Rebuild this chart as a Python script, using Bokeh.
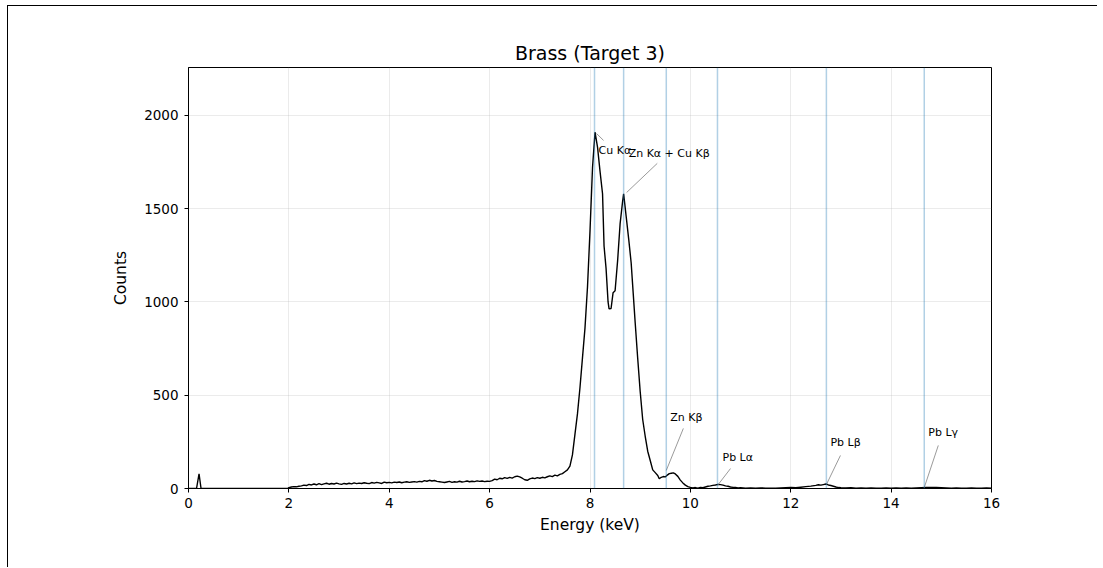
from bokeh.plotting import figure
from bokeh.models import Span, FixedTicker, Range1d, ColumnDataSource
from bokeh.core.properties import value
from bokeh.embed import file_html
from bokeh.resources import INLINE

# ---- spectrum data ----
energy = [0.00, 0.10, 0.16, 0.21, 0.25, 0.50, 1.00, 1.50, 1.98,
          2.00, 2.05, 2.10, 2.15, 2.20, 2.25, 2.30, 2.35, 2.40, 2.45, 2.50, 2.55, 2.60, 2.65, 2.70, 2.75, 2.80, 2.85, 2.90, 2.95,
          3.00, 3.05, 3.10, 3.15, 3.20, 3.25, 3.30, 3.35, 3.40, 3.45, 3.50, 3.55, 3.60, 3.65, 3.70, 3.75, 3.80, 3.85, 3.90, 3.95,
          4.00, 4.05, 4.10, 4.15, 4.20, 4.25, 4.30, 4.35, 4.40, 4.45, 4.50, 4.55, 4.60, 4.65, 4.70, 4.75, 4.80, 4.85, 4.90, 4.95,
          5.00, 5.05, 5.10, 5.15, 5.20, 5.25, 5.30, 5.35, 5.40, 5.45, 5.50, 5.55, 5.60, 5.65, 5.70, 5.75, 5.80, 5.85, 5.90, 5.95,
          6.00, 6.05, 6.10, 6.15, 6.20, 6.25, 6.30, 6.35, 6.40, 6.45, 6.50, 6.55, 6.60, 6.65, 6.70, 6.75, 6.80, 6.85, 6.90, 6.95,
          7.00, 7.05, 7.10, 7.15, 7.20, 7.25, 7.30, 7.35, 7.40, 7.45, 7.50, 7.55,
          7.60, 7.65, 7.70, 7.75, 7.80, 7.85, 7.90, 7.95, 8.00, 8.05, 8.10, 8.15, 8.20, 8.25, 8.28, 8.32, 8.36, 8.38, 8.42, 8.46,
          8.50, 8.55, 8.60, 8.65, 8.67, 8.72, 8.77, 8.82, 8.86, 8.90, 8.95, 9.00, 9.05, 9.10, 9.15, 9.20, 9.25, 9.30, 9.35, 9.38,
          9.42, 9.46, 9.50, 9.54, 9.58, 9.62, 9.66, 9.70, 9.75, 9.80, 9.85, 9.90, 9.95, 10.00, 10.05, 10.10, 10.15, 10.20, 10.25,
          10.30, 10.35, 10.40, 10.45, 10.50, 10.55, 10.60, 10.65, 10.70, 10.75, 10.80, 10.85, 10.90, 10.95,
          11.0, 11.1, 11.2, 11.3, 11.4, 11.5, 11.6, 11.7, 11.8, 11.9, 12.0, 12.1, 12.2, 12.3, 12.4, 12.5, 12.55, 12.6, 12.65,
          12.7, 12.75, 12.8, 12.85, 12.9, 12.95, 13.0, 13.1, 13.2, 13.3, 13.4, 13.5, 13.6, 13.7, 13.8, 13.9, 14.0, 14.1, 14.2,
          14.3, 14.4, 14.5, 14.6, 14.7, 14.8, 14.9, 15.0, 15.1, 15.2, 15.3, 15.4, 15.5, 15.6, 15.7, 15.8, 15.9, 16.0]
counts = [0, 0, 0, 79, 0, 0, 0, 0, 0,
          5, 8, 10, 9, 12, 14, 18, 16, 22, 19, 24, 20, 26, 21, 25, 28, 23, 27, 24, 29,
          25, 22, 27, 24, 28, 25, 30, 26, 29, 27, 31, 28, 26, 32, 29, 33, 30, 27, 34, 31,
          33, 30, 34, 32, 35, 31, 34, 36, 33, 35, 37, 34, 38, 36, 42, 39, 44, 40, 43, 38,
          36, 34, 32, 35, 38, 33, 36, 34, 39, 35, 37, 40, 36, 39, 37, 41, 38, 40, 37, 39,
          38, 42, 50, 47, 55, 52, 58, 54, 60, 56, 63, 66, 62, 55, 47, 44, 52, 56, 53, 58,
          55, 60, 57, 63, 68, 64, 72, 68, 76, 80, 90, 100,
          120, 180, 290, 400, 540, 700, 860, 1080, 1380, 1720, 1910, 1830, 1700, 1580, 1300, 1180, 1000, 963, 965, 1050,
          1060, 1220, 1420, 1540, 1580, 1460, 1340, 1210, 1050, 890, 700, 520, 370, 280, 200, 150, 100, 85, 70, 52,
          60, 64, 62, 72, 80, 82, 84, 78, 65, 45, 30, 18, 10, 6, 3, 5, 2, 6, 4,
          8, 12, 14, 17, 19, 22, 21, 18, 14, 12, 8, 6, 5, 3,
          4, 2, 3, 2, 3, 2, 1, 2, 3, 4, 5, 4, 7, 10, 13, 17, 20, 18, 21,
          24, 19, 16, 12, 8, 5, 4, 3, 4, 2, 3, 2, 3, 2, 2, 3, 2, 3, 2,
          3, 2, 3, 4, 5, 6, 5, 4, 3, 2, 3, 2, 2, 3, 2, 2, 3, 2]

# ---- reference lines and annotations ----
line_names = ["Cu K\u03b1", "Zn K\u03b1 + Cu K\u03b2", "Zn K\u03b2", "Pb L\u03b1", "Pb L\u03b2", "Pb L\u03b3"]
line_energy = [8.09, 8.67, 9.52, 10.54, 12.71, 14.66]
label_x = [8.17, 8.77, 9.60, 10.64, 12.79, 14.74]
label_y = [1812, 1796, 381, 166, 247, 300]
leader_x0 = [8.13, 8.73, 9.52, 10.54, 12.71, 14.66]
leader_y0 = [1903, 1587, 97, 16, 21, 5]
leader_x1 = [8.27, 9.34, 9.86, 10.80, 12.99, 14.94]
leader_y1 = [1866, 1743, 322, 107, 177, 231]

FONT = "DejaVu Sans"

p = figure(width=1090, height=562, output_backend="svg", toolbar_location=None,
           x_range=Range1d(0, 16), y_range=Range1d(0, 2257),
           min_border_left=180, min_border_right=107, min_border_top=61, min_border_bottom=80,
           title="Brass (Target 3)")
p.styles = {"border-left": "1px solid black", "border-top": "1px solid black",
            "margin-left": "7px", "margin-top": "5px"}

p.title.align = "center"
p.title.text_font = FONT
p.title.text_font_size = "19px"
p.title.text_font_style = "normal"
p.title.text_color = "black"
p.title.standoff = 8

p.outline_line_color = "black"
p.outline_line_alpha = 1
p.outline_line_width = 1

for ax in (p.xaxis, p.yaxis):
    ax.axis_line_color = "black"
    ax.major_tick_line_color = "black"
    ax.minor_tick_line_color = None
    ax.major_tick_out = 4
    ax.major_tick_in = 0
    ax.major_label_text_font = FONT
    ax.major_label_text_font_size = "13.5px"
    ax.major_label_text_color = "black"
    ax.axis_label_text_font = FONT
    ax.axis_label_text_font_size = "15.5px"
    ax.axis_label_text_font_style = "normal"
    ax.axis_label_text_color = "black"

p.xaxis.ticker = FixedTicker(ticks=[0, 2, 4, 6, 8, 10, 12, 14, 16])
p.yaxis.ticker = FixedTicker(ticks=[0, 500, 1000, 1500, 2000])
p.xaxis.axis_label = "Energy (keV)"
p.yaxis.axis_label = "Counts"
p.xaxis.major_label_standoff = 5
p.yaxis.major_label_standoff = 6
p.xaxis.axis_label_standoff = 5
p.yaxis.axis_label_standoff = 11

p.xgrid.grid_line_color = "#b0b0b0"
p.xgrid.grid_line_alpha = 0.25
p.ygrid.grid_line_color = "#b0b0b0"
p.ygrid.grid_line_alpha = 0.25

for e in line_energy:
    p.add_layout(Span(location=e, dimension="height", line_color="#1f77b4",
                      line_alpha=0.35, line_width=1.5))

p.line(energy, counts, line_color="black", line_width=1.4)

p.segment(x0=leader_x0, y0=leader_y0, x1=leader_x1, y1=leader_y1,
          line_color="#808080", line_width=0.8)

src = ColumnDataSource(dict(x=label_x, y=label_y, t=line_names))
p.text(x="x", y="y", text="t", source=src, text_font=value(FONT),
       text_font_size="11px", text_align="left", text_baseline="middle",
       text_color="black")

open("out.html", "w").write(file_html(p, INLINE))
